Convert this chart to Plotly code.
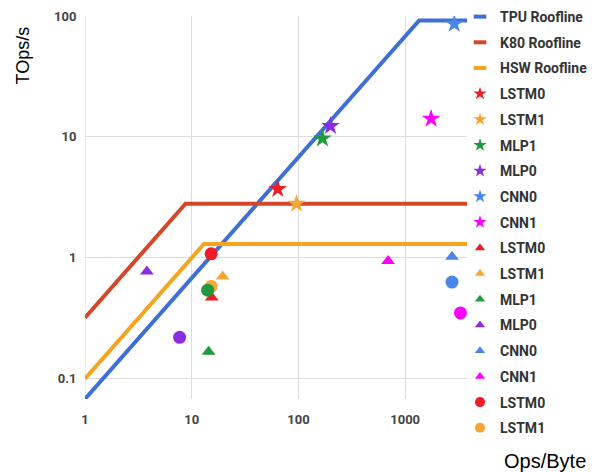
import numpy as np
import plotly.graph_objects as go

# Rooflines
roof_names = ["TPU Roofline", "K80 Roofline", "HSW Roofline"]
roof_bw = [0.068, 0.32, 0.1]       # TOps/s per Ops/Byte (slope)
roof_peak = [92.0, 2.8, 1.3]       # TOps/s
roof_colors = ["#3e6fd6", "#d5472a", "#f6a31f"]
x_min, x_max = 1.0, 3800.0

# Applications
apps = ["LSTM0", "LSTM1", "MLP1", "MLP0", "CNN0", "CNN1"]
app_colors = ["#ee1c24", "#f7a535", "#1e9a3c", "#8b2be2", "#4a86e8", "#ff00ff"]

tpu_x = [64, 96, 168, 200, 2888, 1750]
tpu_y = [3.7, 2.8, 9.7, 12.3, 86, 14.1]

k80_x = [15.4, 19.5, 14.4, 3.8, 2750, 692]
k80_y = [0.47, 0.70, 0.167, 0.77, 1.02, 0.94]

hsw_x = [15.2, 15.2, 14.1, 7.7, 2750, 3300]
hsw_y = [1.08, 0.58, 0.54, 0.22, 0.63, 0.35]
hsw_in_legend = [True, True, False, False, False, False]

fig = go.Figure()

# --- plotted marks (legend handled by small proxy entries) ---
for name, bw, peak, col in zip(roof_names, roof_bw, roof_peak, roof_colors):
    ridge = peak / bw
    xs = [x_min, ridge, x_max]
    ys = [bw * x_min, peak, peak]
    fig.add_trace(go.Scatter(x=xs, y=ys, mode="lines", name=name,
                             line=dict(color=col, width=4), showlegend=False))

for sym, xs_, ys_, sz in [("star", tpu_x, tpu_y, 14),
                          ("triangle-up", k80_x, k80_y, 12),
                          ("circle", hsw_x, hsw_y, 13)]:
    for i, (n, c) in enumerate(zip(apps, app_colors)):
        fig.add_trace(go.Scatter(x=[xs_[i]], y=[ys_[i]], mode="markers", name=n,
                                 marker=dict(symbol=sym, size=sz, color=c),
                                 showlegend=False))

# --- legend proxies ---
def legend_entry(name, marker, group):
    fig.add_trace(go.Scatter(x=[None], y=[None], mode="markers", name=name,
                             marker=marker, legendgroup=group, showlegend=True))

for name, col in zip(roof_names, roof_colors):
    legend_entry(name, dict(symbol="line-ew", size=9, color=col,
                            line=dict(color=col, width=4)), "L" + name)
for n, c in zip(apps, app_colors):
    legend_entry(n, dict(symbol="star", size=10, color=c), "s" + n)
for n, c in zip(apps, app_colors):
    legend_entry(n, dict(symbol="triangle-up", size=9, color=c), "t" + n)
for n, c, show in zip(apps, app_colors, hsw_in_legend):
    if show:
        legend_entry(n, dict(symbol="circle", size=10, color=c), "c" + n)

tickfont = dict(family="Roboto", size=13, color="#444444", weight="bold")

fig.update_layout(
    width=611, height=472,
    margin=dict(l=77, r=152, t=8, b=81, autoexpand=False),
    plot_bgcolor="white", paper_bgcolor="white",
    showlegend=True,
    legend=dict(xref="paper", yref="paper", x=(452 - 77) / 382, y=1 + 15 / 383,
                xanchor="left", yanchor="top", maxheight=480,
                font=dict(family="Roboto", size=14, color="#333333", weight="bold"),
                tracegroupgap=4.5, itemwidth=30, bgcolor="rgba(0,0,0,0)"),
    xaxis=dict(type="log", range=[0, np.log10(x_max)],
               tickvals=[1, 10, 100, 1000], ticktext=["1", "10", "100", "1000"],
               showgrid=True, gridcolor="#dddddd", gridwidth=1,
               zeroline=False, showline=False,
               ticks="outside", ticklen=8, tickcolor="rgba(0,0,0,0)",
               tickfont=tickfont),
    yaxis=dict(type="log", range=[np.log10(0.068), 2.0],
               tickvals=[0.1, 1, 10, 100], ticktext=["0.1", "1", "10", "100"],
               showgrid=True, gridcolor="#dddddd", gridwidth=1,
               zeroline=False, showline=False,
               ticks="outside", ticklen=5, tickcolor="rgba(0,0,0,0)",
               tickfont=tickfont),
    annotations=[
        dict(text="TOps/s", xref="paper", yref="paper", x=(22.5 - 85) / 382, y=(399 - 25) / 383,
             xanchor="center", yanchor="top", textangle=-90, showarrow=False,
             font=dict(family="Liberation Sans", size=18, color="#000000")),
        dict(text="Ops/Byte", xref="paper", yref="paper", x=(502 - 85) / 382, y=(399 - 461) / 383,
             xanchor="left", yanchor="middle", showarrow=False,
             font=dict(family="Liberation Sans", size=20, color="#000000")),
    ],
)
# vertical line at x=1 as the y axis line
fig.add_shape(type="line", xref="x", yref="paper", x0=1, x1=1, y0=0, y1=1,
              line=dict(color="#dddddd", width=1), layer="below")

fig.write_html("out.html")
